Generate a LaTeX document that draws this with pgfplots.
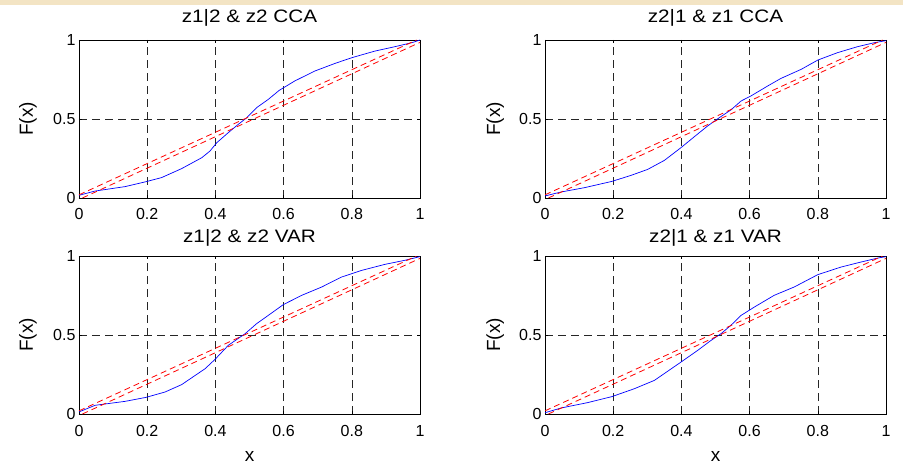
\documentclass[border=0pt]{standalone}
\usepackage{pgfplots}
\pgfplotsset{compat=1.18}
\usepackage{fontspec}
\setmainfont{Liberation Sans}
\newfontfamily\titlefont{Liberation Sans}[FakeStretch=1.15]
\definecolor{slidebg}{RGB}{243,228,196}

\pgfplotsset{
  cdfpanel/.style={
    width=341pt, height=158pt, scale only axis,
    xmin=0, xmax=1, ymin=0, ymax=1,
    xtick={0,0.2,0.4,0.6,0.8,1}, ytick={0,0.5,1},
    xmajorgrids, ymajorgrids,
    grid style={black!85, line width=0.6pt, dash pattern=on 8pt off 5pt},
    axis line style={line width=0.9pt},
    tick align=inside, major tick length=3pt,
    tick style={black, line width=0.6pt},
    /pgf/number format/assume math mode=true,
    tick label style={font=\fontsize{16}{16}\selectfont},
    xticklabel style={anchor=base, yshift=-22pt},
    ylabel={F(x)},
    ylabel style={font=\fontsize{19}{19}\selectfont, anchor=center},
    xlabel style={font=\fontsize{19}{19}\selectfont, anchor=center,
                  at={(axis description cs:0.5,-0.272)}},
    title style={font=\titlefont\fontsize{18}{18}\selectfont, anchor=base},
  },
  cdf/.style={blue, line width=0.7pt},
  ref/.style={red, line width=0.8pt, dash pattern=on 6pt off 4pt},
}

\begin{document}
\begin{tikzpicture}
\useasboundingbox (0,0) rectangle (903pt,-465pt);
\fill[slidebg] (0,0) rectangle (903pt,-5pt);

% top left
\begin{axis}[cdfpanel, at={(79pt,-198pt)}, anchor=south west,
  title={z1|2 \& z2 CCA}, title style={at={(axis description cs:0.5,1.072)}},
  ylabel style={at={(axis description cs:-0.1496,0.5)}}]
\addplot[cdf] coordinates {
(0,0.017) (0.047,0.044) (0.135,0.072) (0.196,0.103) (0.242,0.129) (0.301,0.186)
(0.360,0.255) (0.384,0.297) (0.404,0.350) (0.438,0.414) (0.467,0.466) (0.492,0.508)
(0.521,0.572) (0.555,0.624) (0.587,0.681) (0.633,0.741) (0.692,0.804) (0.751,0.852)
(0.800,0.888) (0.868,0.930) (0.927,0.958) (0.976,0.983) (1,1)};
\addplot[ref] coordinates {(0,0.02) (0.99,1)};
\addplot[ref] coordinates {(0.01,0) (1,0.985)};
\end{axis}

% top right
\begin{axis}[cdfpanel, at={(545pt,-198pt)}, anchor=south west,
  title={z2|1 \& z1 CCA}, title style={at={(axis description cs:0.5,1.072)}},
  ylabel style={at={(axis description cs:-0.146,0.5)}}]
\addplot[cdf] coordinates {
(0,0.013) (0.047,0.038) (0.115,0.065) (0.196,0.105) (0.252,0.143) (0.301,0.181)
(0.350,0.238) (0.399,0.319) (0.438,0.388) (0.477,0.456) (0.511,0.508) (0.545,0.557)
(0.575,0.614) (0.604,0.646) (0.653,0.709) (0.692,0.757) (0.751,0.814) (0.800,0.873)
(0.858,0.920) (0.917,0.958) (0.966,0.983) (1,0.996)};
\addplot[ref] coordinates {(0,0.02) (0.99,1)};
\addplot[ref] coordinates {(0.01,0) (1,0.985)};
\end{axis}

% bottom left
\begin{axis}[cdfpanel, at={(79pt,-414pt)}, anchor=south west,
  title={z1|2 \& z2 VAR}, title style={at={(axis description cs:0.5,1.045)}},
  ylabel style={at={(axis description cs:-0.1496,0.5)}}, xlabel={x}]
\addplot[cdf] coordinates {
(0,0.013) (0.047,0.055) (0.135,0.080) (0.196,0.105) (0.252,0.139) (0.301,0.186)
(0.370,0.287) (0.399,0.346) (0.438,0.435) (0.487,0.508) (0.521,0.572) (0.555,0.624)
(0.599,0.692) (0.653,0.751) (0.712,0.804) (0.770,0.867) (0.829,0.909) (0.897,0.947)
(0.956,0.973) (1,0.996)};
\addplot[ref] coordinates {(0,0.02) (0.99,1)};
\addplot[ref] coordinates {(0.01,0) (1,0.985)};
\end{axis}

% bottom right
\begin{axis}[cdfpanel, at={(545pt,-414pt)}, anchor=south west,
  title={z2|1 \& z1 VAR}, title style={at={(axis description cs:0.5,1.045)}},
  ylabel style={at={(axis description cs:-0.146,0.5)}}, xlabel={x}]
\addplot[cdf] coordinates {
(0,0.008) (0.047,0.038) (0.125,0.072) (0.196,0.110) (0.262,0.160) (0.321,0.213)
(0.399,0.329) (0.448,0.403) (0.487,0.466) (0.516,0.508) (0.545,0.561) (0.575,0.624)
(0.614,0.677) (0.672,0.751) (0.731,0.804) (0.800,0.882) (0.868,0.930) (0.927,0.962)
(0.976,0.987) (1,0.996)};
\addplot[ref] coordinates {(0,0.02) (0.99,1)};
\addplot[ref] coordinates {(0.01,0) (1,0.985)};
\end{axis}
\end{tikzpicture}
\end{document}
